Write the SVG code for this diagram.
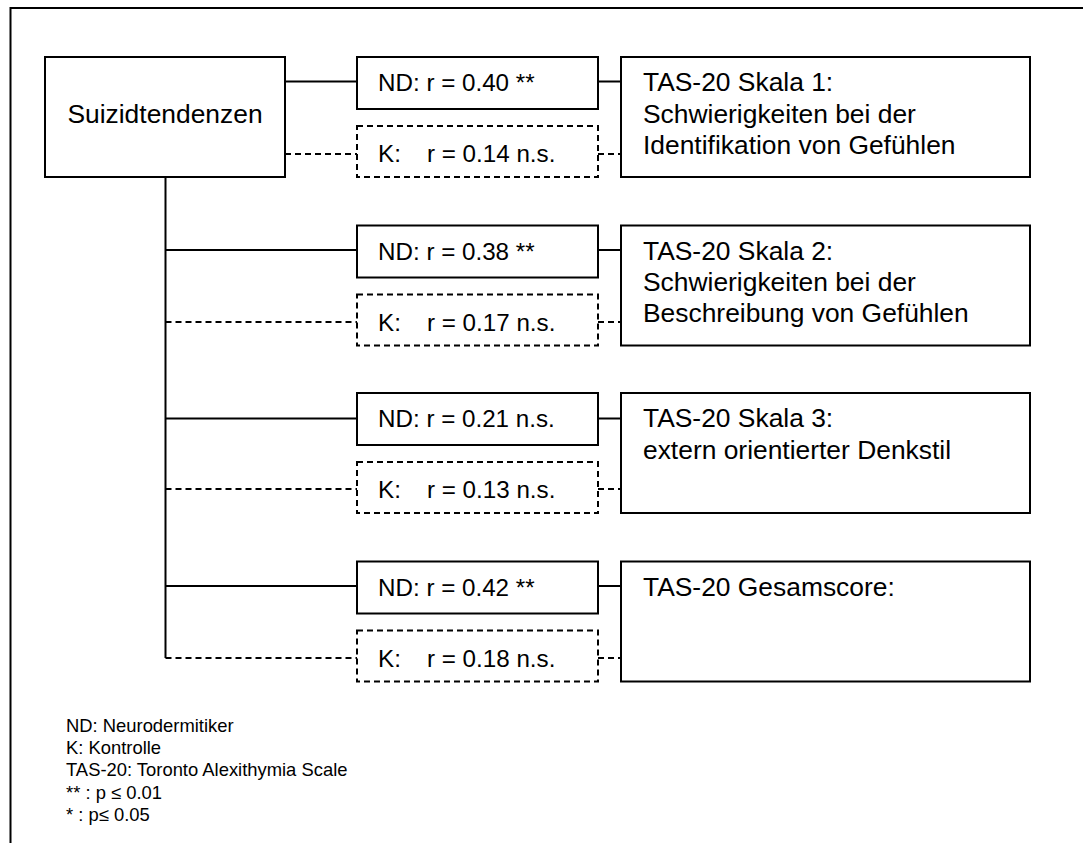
<svg xmlns="http://www.w3.org/2000/svg" width="1083" height="843" viewBox="0 0 1083 843">
<style>
.box{fill:#fff;stroke:#000;stroke-width:2}
.dbox{fill:#fff;stroke:#000;stroke-width:2;stroke-dasharray:6 4}
.ln{fill:none;stroke:#000;stroke-width:2}
.dl{fill:none;stroke:#000;stroke-width:2;stroke-dasharray:6 4}
text{font-family:"Liberation Sans",Arial,sans-serif;fill:#000}
.big{font-size:26.4px}
.mid{font-size:24.2px}
.small{font-size:18.4px}
</style>
<rect width="1083" height="843" fill="#fff"/>
<path class="ln" d="M10.5,843 V8 H1083"/>
<g id="connectors">
<path class="ln" d="M285,81.5 H357 M598,81.5 H621"/>
<path class="dl" d="M285,154 H357 M598,154 H621"/>
<path class="ln" d="M165.5,177 V658"/>
<path class="ln" d="M165.5,250 H357 M598,250 H621"/>
<path class="dl" d="M165.5,322 H357 M598,322 H621"/>
<path class="ln" d="M165.5,418.5 H357 M598,418.5 H621"/>
<path class="dl" d="M165.5,489 H357 M598,489 H621"/>
<path class="ln" d="M165.5,586 H357 M598,586 H621"/>
<path class="dl" d="M165.5,658 H357 M598,658 H621"/>
</g>
<g id="suizid">
<rect class="box" x="45" y="57" width="240" height="120"/>
<text class="big" x="165" y="123" text-anchor="middle">Suizidtendenzen</text>
</g>
<g id="nd1"><rect class="box" x="357" y="57" width="241" height="52"/><text class="mid" x="378" y="91">ND: r = 0.40 **</text></g>
<g id="k1"><rect class="dbox" x="357" y="126" width="241" height="51"/><text class="mid" x="378" y="162">K:</text><text class="mid" x="427" y="162">r = 0.14 n.s.</text></g>
<g id="tas1"><rect class="box" x="621" y="57" width="409" height="120"/><text class="big" x="643" y="91">TAS-20 Skala 1:</text><text class="big" x="643" y="122.5">Schwierigkeiten bei der</text><text class="big" x="643" y="153.5">Identifikation von Gefühlen</text></g>
<g id="nd2"><rect class="box" x="357" y="225.5" width="241" height="52"/><text class="mid" x="378" y="259.5">ND: r = 0.38 **</text></g>
<g id="k2"><rect class="dbox" x="357" y="294.5" width="241" height="51"/><text class="mid" x="378" y="330.5">K:</text><text class="mid" x="427" y="330.5">r = 0.17 n.s.</text></g>
<g id="tas2"><rect class="box" x="621" y="225.5" width="409" height="120"/><text class="big" x="643" y="259.5">TAS-20 Skala 2:</text><text class="big" x="643" y="291">Schwierigkeiten bei der</text><text class="big" x="643" y="322">Beschreibung von Gefühlen</text></g>
<g id="nd3"><rect class="box" x="357" y="393" width="241" height="52"/><text class="mid" x="378" y="427">ND: r = 0.21 n.s.</text></g>
<g id="k3"><rect class="dbox" x="357" y="462" width="241" height="51"/><text class="mid" x="378" y="498">K:</text><text class="mid" x="427" y="498">r = 0.13 n.s.</text></g>
<g id="tas3"><rect class="box" x="621" y="393" width="409" height="120"/><text class="big" x="643" y="427">TAS-20 Skala 3:</text><text class="big" x="643" y="458.5">extern orientierter Denkstil</text></g>
<g id="nd4"><rect class="box" x="357" y="561.5" width="241" height="52"/><text class="mid" x="378" y="595.5">ND: r = 0.42 **</text></g>
<g id="k4"><rect class="dbox" x="357" y="630.5" width="241" height="51"/><text class="mid" x="378" y="666.5">K:</text><text class="mid" x="427" y="666.5">r = 0.18 n.s.</text></g>
<g id="tas4"><rect class="box" x="621" y="561.5" width="409" height="120"/><text class="big" x="643" y="595.5">TAS-20 Gesamscore:</text></g>
<g id="legend">
<text class="small" x="66" y="732">ND: Neurodermitiker</text>
<text class="small" x="66" y="754">K: Kontrolle</text>
<text class="small" x="66" y="775.5">TAS-20: Toronto Alexithymia Scale</text>
<text class="small" x="66" y="798.5">** : p ≤ 0.01</text>
<text class="small" x="66" y="820.5">* : p≤ 0.05</text>
</g>
</svg>
